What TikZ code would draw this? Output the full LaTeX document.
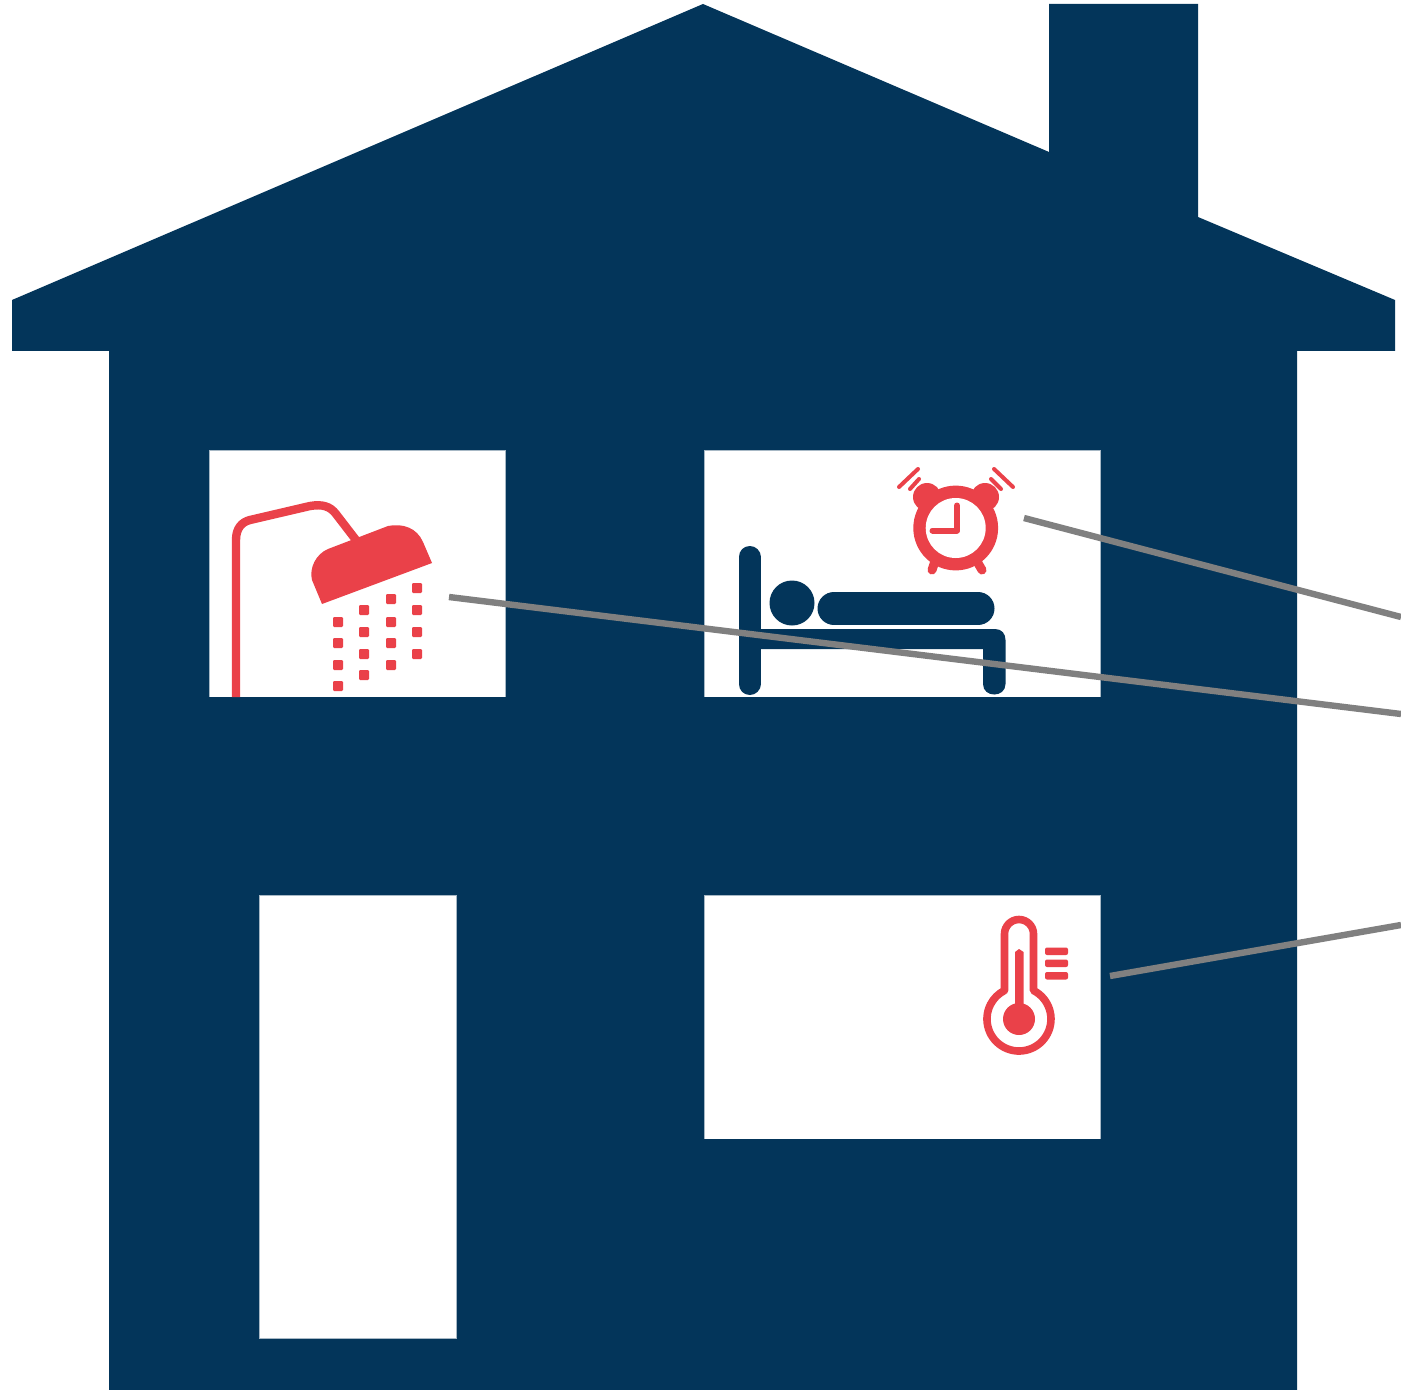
\documentclass[tikz,border=0pt]{standalone}
\definecolor{navy}{HTML}{03355A}
\definecolor{iconred}{HTML}{EA4149}
\definecolor{leader}{HTML}{808080}
\tikzset{
  openpane/.style={fill=white,draw=navy!35!white,line width=0.35pt},
  redline/.style={draw=iconred,line cap=round,line join=round},
  drop/.style={fill=iconred,rounded corners=0.6pt},
  bedline/.style={draw=navy,line cap=round,line join=round},
  leaderline/.style={draw=leader,line width=3.2pt}
}
\begin{document}
\begin{tikzpicture}[x=0.5pt,y=-0.5pt]
\useasboundingbox (0,0) rectangle (1401,1390);
\fill[white] (0,0) rectangle (1401,1390);
% house
\fill[navy] (703,4) -- (1049,152) -- (1049,4) -- (1198,4) -- (1198,217) -- (1395,300) -- (1395,351) -- (1297,351) -- (1297,1390) -- (109,1390) -- (109,351) -- (12,351) -- (12,300) -- cycle;
% openings
\path[openpane] (209.5,450.5) rectangle (505.5,697);
\path[openpane] (704.5,450.5) rectangle (1100.5,697);
\path[openpane] (704.5,895.5) rectangle (1100.5,1139);
\path[openpane] (259,895.5) rectangle (456.5,1338.5);
\fill[navy] (205,696.5) rectangle (510,703);
\fill[navy] (700,696.5) rectangle (1105,703);
\fill[navy] (700,1138.5) rectangle (1105,1144);
% shower
\draw[iconred,line width=4.2pt,line join=round] (236,697) -- (236,540) .. controls (236,528) and (242,522) .. (250,520) -- (310,506) .. controls (322,504) and (330,506) .. (336,514) -- (356,540);
\fill[iconred] (322,604) -- (432,563) -- (423,542) .. controls (417,528) and (403,523) .. (388,526) -- (328,549) .. controls (316,554) and (309,568) .. (312,580) -- cycle;
\foreach \px/\py in {338/622,338/643,338/665,338/686,364/610,364/632,364/654,364/675,391/599,391/622,391/643,391/665,417/588,417/610,417/632,417/654}{
  \fill[drop] (\px-5,\py-5) rectangle (\px+5,\py+5);
}
% bed
\draw[bedline,line width=11pt] (749.5,557) -- (749.5,684);
\fill[navy] (792,603) circle[radius=11.25pt];
\draw[bedline,line width=16.5pt] (834,608.5) -- (978,608.5);
\fill[navy] (755,629) -- (995,629) .. controls (1002,629) and (1005.5,634) .. (1005.5,640) -- (1005.5,684) .. controls (1005.5,698) and (983,698) .. (983,684) -- (983,649) -- (755,649) -- cycle;
% alarm clock
\fill[iconred] (927,497) circle[radius=7pt];
\fill[iconred] (985,497) circle[radius=7pt];
\draw[redline,line width=4.5pt] (936,558) -- (932,570);
\draw[redline,line width=4.5pt] (975,558) -- (982,570);
\fill[iconred] (955.7,528) circle[radius=21.2pt];
\fill[white] (955.7,528) circle[radius=15pt];
\draw[redline,line width=3pt] (957,505.5) -- (957,530.5) -- (932.5,530.5);
\draw[redline,line width=2pt] (918,469) -- (899,487);
\draw[redline,line width=2pt] (919,479) -- (910,489);
\draw[redline,line width=2pt] (994,469) -- (1013,487);
\draw[redline,line width=2pt] (991,479) -- (1001,489);
% thermometer
\draw[iconred,line width=3.8pt,line join=round] (1004.5,990.5) -- (1004.5,934) arc[start angle=180,end angle=0,radius=7.25pt] -- (1033.5,990.5) arc[start angle=63,end angle=-243,radius=16pt] -- cycle;
\fill[iconred] (1019,1019) circle[radius=8pt];
\fill[iconred] (1015,952) -- (1019,949) -- (1023.5,952) -- (1023.5,1019) -- (1015,1019) -- cycle;
\fill[iconred,rounded corners=1pt] (1045,947.5) rectangle (1068,955);
\fill[iconred,rounded corners=1pt] (1045,959.5) rectangle (1068,967);
\fill[iconred,rounded corners=1pt] (1045,972) rectangle (1068,979.5);
% leader lines
\coordinate (showerpoint) at (449,597);
\coordinate (showerexit) at (1401,714);
\coordinate (alarmpoint) at (1024,518);
\coordinate (alarmexit) at (1401,617);
\coordinate (thermopoint) at (1110,976);
\coordinate (thermoexit) at (1401,925);
\draw[leaderline] (showerpoint) -- (showerexit);
\draw[leaderline] (alarmpoint) -- (alarmexit);
\draw[leaderline] (thermopoint) -- (thermoexit);
\end{tikzpicture}
\end{document}
